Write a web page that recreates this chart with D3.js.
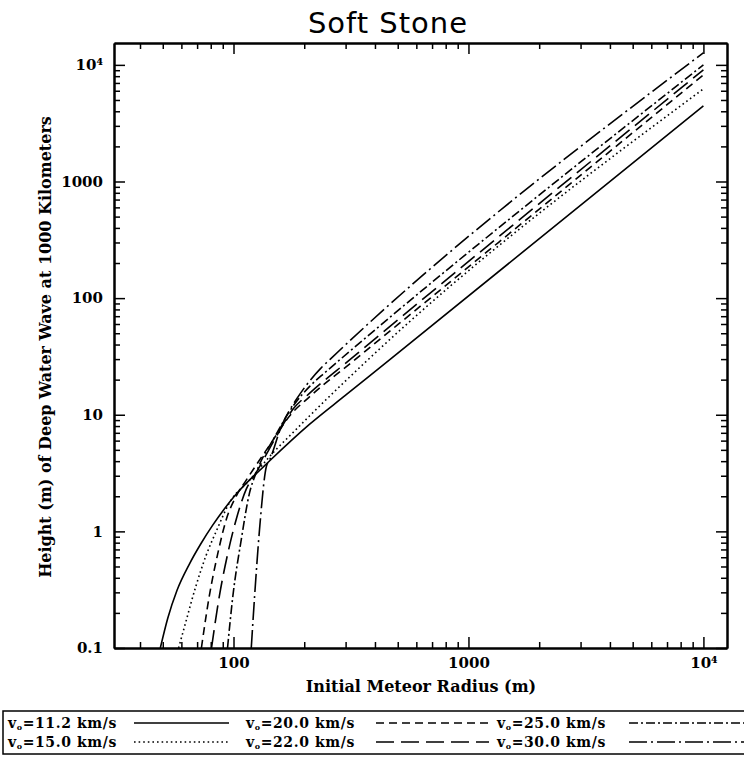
<!DOCTYPE html>
<html><head><meta charset="utf-8">
<script src="https://cdn.jsdelivr.net/npm/d3@7"></script>
<style>body{margin:0;background:#fff}</style>
</head><body><svg id="chart" width="744" height="764"></svg>
<script>
// ---- data ----
const titleText = "Soft Stone";
const xTitle = "Initial Meteor Radius (m)";
const yTitle = "Height (m) of Deep Water Wave at 1000 Kilometers";
const velocities = ["11.2", "15.0", "20.0", "22.0", "25.0", "30.0"];

const radius_11_2 = [48.8, 52.5, 57.5, 64.9, 72.4, 81.3, 91.2, 102.3, 114.8, 128.8, 142.6, 211, 300, 464, 10000];
const height_11_2 = [0.1, 0.18, 0.313, 0.525, 0.776, 1.12, 1.55, 2.07, 2.66, 3.31, 4.03, 8.3, 14.7, 29.8, 4460];
const radius_15_0 = [58.4, 62.8, 69.2, 76.4, 84.4, 96.1, 117, 147, 180, 211, 374, 10000];
const height_15_0 = [0.1, 0.17, 0.34, 0.62, 1.0, 1.76, 2.75, 4.7, 7.1, 9.8, 29.7, 6220];
const radius_20_0 = [73, 78.9, 85.8, 93.1, 102.6, 113.3, 140, 175, 211, 329, 10000];
const height_20_0 = [0.1, 0.28, 0.65, 1.26, 2.0, 2.75, 5.2, 10, 14.3, 29.7, 8200];
const radius_22_0 = [80.6, 87.1, 94.6, 102.6, 113.3, 125, 150, 180, 211, 313, 10000];
const height_22_0 = [0.1, 0.28, 0.65, 1.26, 2.3, 3.2, 6.2, 11.3, 15.3, 29.7, 9060];
const radius_25_0 = [94.3, 99.4, 107.9, 117, 125, 150, 180, 211, 245, 284, 10000];
const height_25_0 = [0.1, 0.28, 0.85, 2.14, 3.2, 6.5, 12, 17.5, 23, 29.7, 10000];
const radius_30_0 = [119, 123, 129, 138, 142.5, 160, 185, 211, 235, 257, 10000];
const height_30_0 = [0.1, 0.28, 1.03, 3.6, 4.1, 8, 13.5, 19.5, 25, 29.7, 12700];

const xTickValues = [100, 1000, 10000];
const xTickLabels = ["100", "1000", "10\u2074"];
const yTickValues = [0.1, 1, 10, 100, 1000, 10000];
const yTickLabels = ["0.1", "1", "10", "100", "1000", "10\u2074"];

// ---- layout ----
const svg = d3.select("#chart");
const L = 114, R = 727, T = 43, B = 648;
const x = d3.scaleLog().domain([31, 12600]).range([L, R]);
const y = d3.scaleLog().domain([0.1, 15400]).range([B, T]);

const fontSerif = "'DejaVu Serif', serif";

function minors(dom) {
  const out = [];
  const lo = Math.floor(Math.log10(dom[0])), hi = Math.ceil(Math.log10(dom[1]));
  for (let e = lo; e <= hi; e++) for (let m = 2; m <= 9; m++) {
    const v = m * Math.pow(10, e);
    if (v > dom[0] && v < dom[1]) out.push(v);
  }
  return out;
}
const xMinor = minors(x.domain()), yMinor = minors(y.domain());
const majorLen = 11, minorLen = 6;

function styleAxis(g) {
  g.select(".domain").attr("stroke", "#000").attr("stroke-width", 2);
  g.selectAll(".tick line").attr("stroke", "#000").attr("stroke-width", 1.5);
  g.selectAll("text").attr("font-family", fontSerif).attr("font-weight", "bold")
    .attr("font-size", 15).attr("fill", "#000");
}

// bottom
svg.append("g").attr("transform", `translate(0,${B})`)
  .call(d3.axisBottom(x).tickValues(xTickValues).tickSizeInner(-majorLen).tickSizeOuter(0)
    .tickPadding(9).tickFormat((d, i) => xTickLabels[i])).call(styleAxis);
svg.append("g").attr("transform", `translate(0,${B})`)
  .call(d3.axisBottom(x).tickValues(xMinor).tickSizeInner(-minorLen).tickSizeOuter(0).tickFormat(""))
  .call(styleAxis);
// top
svg.append("g").attr("transform", `translate(0,${T})`)
  .call(d3.axisTop(x).tickValues(xTickValues).tickSizeInner(-majorLen).tickSizeOuter(0).tickFormat(""))
  .call(styleAxis);
svg.append("g").attr("transform", `translate(0,${T})`)
  .call(d3.axisTop(x).tickValues(xMinor).tickSizeInner(-minorLen).tickSizeOuter(0).tickFormat(""))
  .call(styleAxis);
// left
svg.append("g").attr("transform", `translate(${L},0)`)
  .call(d3.axisLeft(y).tickValues(yTickValues).tickSizeInner(-majorLen).tickSizeOuter(0)
    .tickPadding(11).tickFormat((d, i) => yTickLabels[i])).call(styleAxis);
svg.append("g").attr("transform", `translate(${L},0)`)
  .call(d3.axisLeft(y).tickValues(yMinor).tickSizeInner(-minorLen).tickSizeOuter(0).tickFormat(""))
  .call(styleAxis);
// right
svg.append("g").attr("transform", `translate(${R},0)`)
  .call(d3.axisRight(y).tickValues(yTickValues).tickSizeInner(-majorLen).tickSizeOuter(0).tickFormat(""))
  .call(styleAxis);
svg.append("g").attr("transform", `translate(${R},0)`)
  .call(d3.axisRight(y).tickValues(yMinor).tickSizeInner(-minorLen).tickSizeOuter(0).tickFormat(""))
  .call(styleAxis);

// ---- series ----
const series = [
  { v: velocities[0], r: radius_11_2, h: height_11_2, dash: null },
  { v: velocities[1], r: radius_15_0, h: height_15_0, dash: "1.6,3" },
  { v: velocities[2], r: radius_20_0, h: height_20_0, dash: "8,5" },
  { v: velocities[3], r: radius_22_0, h: height_22_0, dash: "18,7" },
  { v: velocities[4], r: radius_25_0, h: height_25_0, dash: "9,3,2,3" },
  { v: velocities[5], r: radius_30_0, h: height_30_0, dash: "18,4,2,4" }
];

svg.append("clipPath").attr("id", "plotclip").append("rect")
  .attr("x", L).attr("y", T).attr("width", R - L).attr("height", B - T);

const line = d3.line().x(d => x(d[0])).y(d => y(d[1])).curve(d3.curveMonotoneX);
svg.append("g").attr("clip-path", "url(#plotclip)").selectAll("path")
  .data(series).join("path")
  .attr("d", s => line(s.r.map((r, i) => [r, s.h[i]])))
  .attr("fill", "none").attr("stroke", "#000").attr("stroke-width", 1.6)
  .attr("stroke-dasharray", s => s.dash);

// ---- titles ----
svg.append("text").attr("x", 388).attr("y", 33).attr("text-anchor", "middle")
  .attr("font-family", "'DejaVu Sans', sans-serif").attr("font-size", 29)
  .attr("letter-spacing", 1).text(titleText);
svg.append("text").attr("x", 421).attr("y", 692).attr("text-anchor", "middle")
  .attr("font-family", fontSerif).attr("font-weight", "bold").attr("font-size", 16).text(xTitle);
svg.append("text").attr("transform", "translate(51,347) rotate(-90)").attr("text-anchor", "middle")
  .attr("font-family", fontSerif).attr("font-weight", "bold").attr("font-size", 16).text(yTitle);

// ---- legend ----
const lg = svg.append("g");
lg.append("rect").attr("x", 3).attr("y", 711).attr("width", 780).attr("height", 43)
  .attr("fill", "none").attr("stroke", "#000").attr("stroke-width", 1.5);
const colText = [8, 246, 497], colLine = [[134, 229], [376, 489], [629, 744]];
const rowY = [728, 747];
const order = [[0, 0, 0], [1, 0, 1], [2, 1, 0], [3, 1, 1], [4, 2, 0], [5, 2, 1]];
order.forEach(([si, c, r]) => {
  const s = series[si];
  const t = lg.append("text").attr("x", colText[c]).attr("y", rowY[r])
    .attr("font-family", fontSerif).attr("font-weight", "bold").attr("font-size", 14)
    .attr("letter-spacing", 0.6);
  t.append("tspan").text("v");
  t.append("tspan").attr("font-size", 8).attr("dy", 2).text("o");
  t.append("tspan").attr("dy", -2).text("=" + s.v + " km/s");
  lg.append("line").attr("x1", colLine[c][0]).attr("x2", colLine[c][1])
    .attr("y1", rowY[r] - 5).attr("y2", rowY[r] - 5)
    .attr("stroke", "#000").attr("stroke-width", 1.5).attr("stroke-dasharray", s.dash);
});
</script></body></html>
